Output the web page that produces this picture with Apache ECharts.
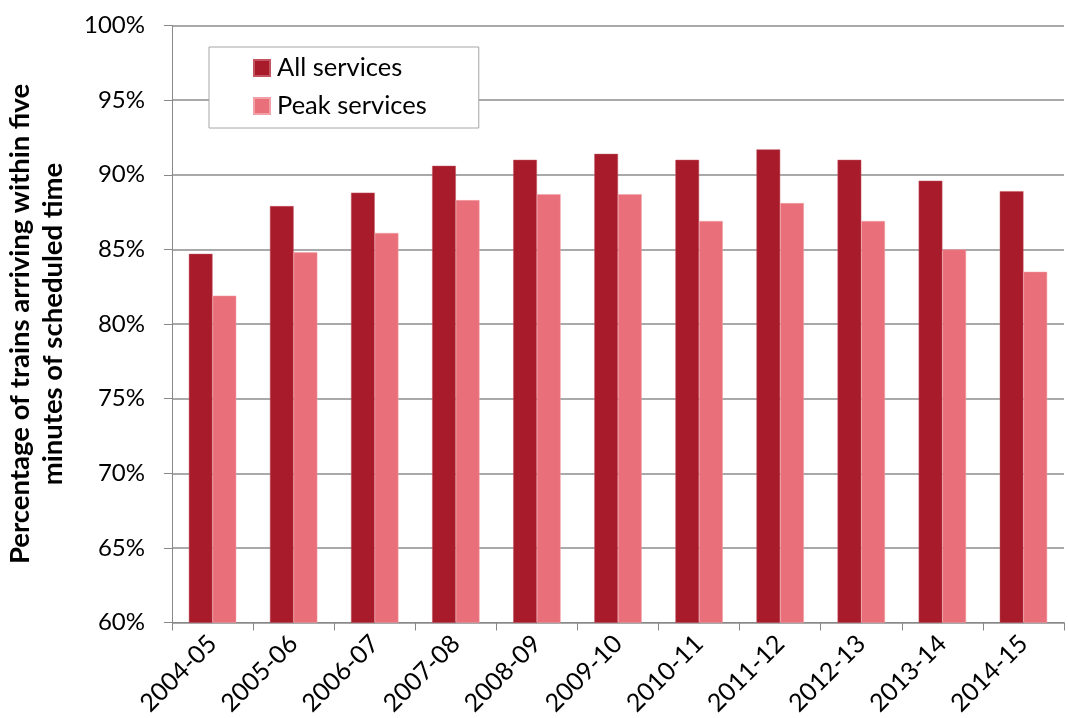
<!DOCTYPE html>
<html>
<head>
<meta charset="utf-8">
<script src="https://cdn.jsdelivr.net/npm/echarts@6/dist/echarts.min.js"></script>
<style>html,body{margin:0;padding:0;background:#fff}#c{width:1068px;height:718px}</style>
</head>
<body>
<div id="c"></div>
<script>
const categories = ['2004-05','2005-06','2006-07','2007-08','2008-09','2009-10','2010-11','2011-12','2012-13','2013-14','2014-15'];
const allServices = [84.7, 87.9, 88.8, 90.6, 91.0, 91.4, 91.0, 91.7, 91.0, 89.6, 88.9];
const peakServices = [81.9, 84.8, 86.1, 88.3, 88.7, 88.7, 86.9, 88.1, 86.9, 85.0, 83.5];
const seriesNames = ['All services', 'Peak services'];
const yTitle = 'Percentage of trains arriving within five\nminutes of scheduled time';

const font = 'Lato, "Open Sans", sans-serif';
const chart = echarts.init(document.getElementById('c'));
chart.setOption({
  animation: false,
  grid: { left: 172, right: 4, top: 25.5, bottom: 95.5, containLabel: false, outerBoundsMode: 'none' },
  legend: {
    orient: 'vertical', left: 209, top: 47,
    padding: [8, 52, 9, 44],
    itemGap: 12,
    itemWidth: 16, itemHeight: 16,
    icon: 'rect',
    backgroundColor: '#fff',
    borderColor: '#a6a6a6', borderWidth: 1,
    textStyle: { fontFamily: font, fontSize: 25.5, color: '#000', padding: [0,0,0,2] },
    data: seriesNames
  },
  xAxis: {
    type: 'category', data: categories,
    axisLine: { lineStyle: { color: '#888', width: 1 } },
    axisTick: { show: true, length: 8, interval: 0, lineStyle: { color: '#888' } },
    axisLabel: { rotate: 45, interval: 0, fontFamily: font, fontSize: 25, color: '#000', margin: 17 }
  },
  yAxis: {
    type: 'value', min: 60, max: 100, interval: 5,
    name: yTitle, nameLocation: 'middle', nameGap: 102, nameRotate: 90,
    nameTextStyle: { fontFamily: font, fontSize: 27.5, fontWeight: 'bold', color: '#000', lineHeight: 33 },
    axisLine: { show: true, lineStyle: { color: '#888', width: 1 } },
    axisTick: { show: true, length: 8, lineStyle: { color: '#888' } },
    axisLabel: { formatter: '{value}%', fontFamily: font, fontSize: 24, color: '#000', margin: 27 },
    splitLine: { lineStyle: { color: '#8c8c8c', width: 1.5 } }
  },
  series: [
    { name: seriesNames[0], type: 'bar', data: allServices, barWidth: 23.7, barGap: '0%',
      itemStyle: { color: '#A81B2B', borderColor: '#c25560', borderWidth: 0.5 } },
    { name: seriesNames[1], type: 'bar', data: peakServices, barWidth: 23.7,
      itemStyle: { color: '#E9707A', borderColor: '#f2a0a7', borderWidth: 0.5 } }
  ]
});
</script>
</body>
</html>
